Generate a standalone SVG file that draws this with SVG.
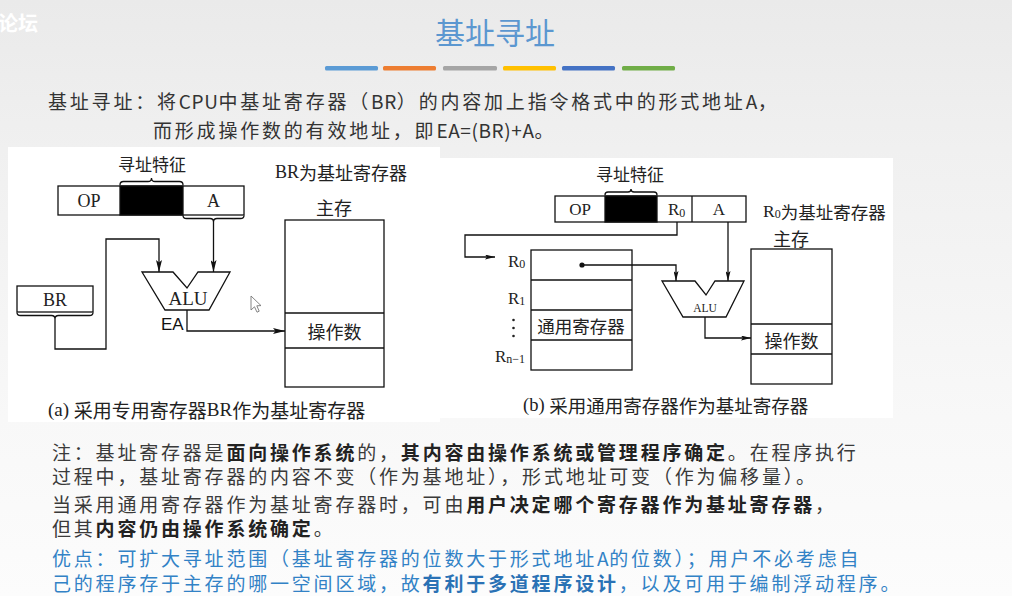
<svg xmlns="http://www.w3.org/2000/svg" width="1012" height="596" viewBox="0 0 1012 596">
<defs>
<linearGradient id="bg" x1="0" y1="0" x2="0" y2="1">
<stop offset="0" stop-color="#eaeaea"/>
<stop offset="0.25" stop-color="#f0f0f0"/>
<stop offset="0.7" stop-color="#f8f8f8"/>
<stop offset="1" stop-color="#fcfcfc"/>
</linearGradient>
<marker id="ah" markerUnits="userSpaceOnUse" markerWidth="13" markerHeight="6" refX="12" refY="3" orient="auto">
<path d="M0,0 L12,3 L0,6 L2.5,3 Z" fill="#111"/>
</marker>
<marker id="ahs" markerUnits="userSpaceOnUse" markerWidth="11" markerHeight="5" refX="10" refY="2.5" orient="auto">
<path d="M0,0 L10,2.5 L0,5 L2,2.5 Z" fill="#111"/>
</marker>
</defs>
<style>
.cjk{font-family:"Noto Sans CJK SC","Noto Sans",sans-serif;}
.ser{font-family:"Liberation Serif","Noto Sans CJK SC",serif;}
.box{fill:#fff;stroke:#111;stroke-width:1.3;}
.ln{fill:none;stroke:#111;stroke-width:1.3;}
.dt{fill:#222;dominant-baseline:central;}
.note{font-family:"Noto Sans CJK SC","Noto Sans",sans-serif;font-size:19px;letter-spacing:2.8px;fill:#3a3a3a;dominant-baseline:central;}
.lat{letter-spacing:0.6px;}
.b{font-weight:700;fill:#222;}
</style>
<rect x="0" y="0" width="1012" height="596" fill="url(#bg)"/>
<text x="-2" y="22" class="cjk" font-size="20" font-weight="700" fill="#ffffff" dominant-baseline="central">论坛</text>

<!-- title -->
<text x="495" y="31" class="cjk" font-size="30" fill="#5b97d0" text-anchor="middle" dominant-baseline="central">基址寻址</text>
<g id="colorbars">
<rect x="325" y="66" width="53" height="4.5" rx="1.5" fill="#5b9bd5"/>
<rect x="383" y="66" width="53" height="4.5" rx="1.5" fill="#ed7d31"/>
<rect x="443" y="66" width="54" height="4.5" rx="1.5" fill="#a5a5a5"/>
<rect x="503" y="66" width="53" height="4.5" rx="1.5" fill="#ffc000"/>
<rect x="562" y="66" width="53" height="4.5" rx="1.5" fill="#4472c4"/>
<rect x="622" y="66" width="53" height="4.5" rx="1.5" fill="#70ad47"/>
</g>

<!-- intro -->
<text x="48" y="100" class="note" style="fill:#333">基址寻址：将<tspan class="lat">CPU</tspan>中基址寄存器（<tspan class="lat">BR</tspan>）的内容加上指令格式中的形式地址<tspan class="lat">A</tspan>，</text>
<text x="153" y="129" class="note" style="fill:#333">而形成操作数的有效地址，即<tspan class="lat">EA=(BR)+A</tspan>。</text>

<!-- picture backgrounds -->
<rect x="8" y="147" width="432" height="275" fill="#ffffff"/>
<rect x="440" y="158" width="453" height="260" fill="#ffffff"/>

<!-- ===== Diagram (a) ===== -->
<g id="a-instr">
<rect x="58" y="186" width="186" height="29" class="box"/>
<rect x="120" y="186" width="63" height="29" fill="#000" stroke="#111" stroke-width="1.3"/>
<text x="89" y="200.5" class="ser dt" font-size="18" text-anchor="middle">OP</text>
<text x="213.5" y="200.5" class="ser dt" font-size="18" text-anchor="middle">A</text>
<text x="152" y="163" class="cjk dt" font-size="17" text-anchor="middle">寻址特征</text>
</g>
<g id="a-br">
<rect x="17" y="286" width="76" height="26" class="box"/>
<text x="55" y="299.5" class="ser dt" font-size="18" text-anchor="middle">BR</text>
</g>
<g id="a-alu">
<polygon points="142,272 173,272 187,288 198,272 230,272 209,310 165,310" class="box"/>
<text x="188" y="298" class="ser dt" font-size="19" text-anchor="middle">ALU</text>
<text x="161" y="324" font-family="Liberation Sans, Arial, sans-serif" font-size="17" fill="#111" dominant-baseline="central">EA</text>
</g>
<g id="a-mem">
<text x="334" y="207" class="cjk dt" font-size="18" text-anchor="middle">主存</text>
<rect x="285" y="220" width="99" height="167" class="box"/>
<line x1="285" y1="313" x2="384" y2="313" class="ln"/>
<line x1="285" y1="348" x2="384" y2="348" class="ln"/>
<text x="334.5" y="330.5" class="cjk dt" font-size="18" text-anchor="middle">操作数</text>
</g>
<text x="275" y="172" class="dt" font-size="18"><tspan class="ser">BR</tspan><tspan class="cjk">为基址寄存器</tspan></text>
<g id="a-connectors">
<path d="M120 185 Q120 181.5 123.5 181.5 L148 181.5 Q151.5 181.5 151.5 178 Q151.5 181.5 155 181.5 L179.5 181.5 Q183 181.5 183 185" class="ln"/>
<path d="M183 215.5 Q183 218.5 186.5 218.5 L210 218.5 Q213.5 218.5 213.5 222 Q213.5 218.5 217 218.5 L240.5 218.5 Q244 218.5 244 215.5" class="ln"/>
<path d="M213.5 222 V272" class="ln" marker-end="url(#ah)"/>
<path d="M17 312.5 Q17 315.5 20.5 315.5 L51.5 315.5 Q55 315.5 55 319 Q55 315.5 58.5 315.5 L89.5 315.5 Q93 315.5 93 312.5" class="ln"/>
<path d="M55 319 V349 H106 V239 H159 V272" class="ln" marker-end="url(#ah)"/>
<path d="M187 310 V331 H285" class="ln" marker-end="url(#ah)"/>
</g>
<path d="M251 296 L251 310 L254.5 306.8 L257 312.2 L259.2 311.2 L256.8 305.8 L261 305.6 Z" fill="#fff" stroke="#777" stroke-width="0.9"/>
<text x="48" y="409" class="dt" font-size="19"><tspan class="ser">(a) </tspan><tspan class="cjk">采用专用寄存器</tspan><tspan class="ser">BR</tspan><tspan class="cjk">作为基址寄存器</tspan></text>

<!-- ===== Diagram (b) ===== -->
<g id="b-instr">
<rect x="555" y="196" width="191" height="26" class="box"/>
<rect x="605" y="196" width="52" height="26" fill="#000" stroke="#111" stroke-width="1.3"/>
<line x1="692" y1="196" x2="692" y2="222" class="ln"/>
<text x="580" y="209.5" class="ser dt" font-size="17" text-anchor="middle">OP</text>
<text x="668" y="209.5" class="ser dt" font-size="17">R<tspan font-size="12" dy="3">0</tspan></text>
<text x="719" y="209.5" class="ser dt" font-size="17" text-anchor="middle">A</text>
<text x="630" y="173.5" class="cjk dt" font-size="17" text-anchor="middle">寻址特征</text>
</g>
<text x="763" y="211" class="dt" font-size="17.5"><tspan class="ser">R</tspan><tspan class="ser" font-size="12" dy="3">0</tspan><tspan class="cjk" dy="-3">为基址寄存器</tspan></text>
<g id="b-regs">
<rect x="531" y="250" width="101" height="120" class="box"/>
<line x1="531" y1="280" x2="632" y2="280" class="ln"/>
<line x1="531" y1="310" x2="632" y2="310" class="ln"/>
<line x1="531" y1="340" x2="632" y2="340" class="ln"/>
<text x="581" y="325" class="cjk dt" font-size="17.5" text-anchor="middle">通用寄存器</text>
<text x="508" y="261" class="ser dt" font-size="17">R<tspan font-size="12" dy="3">0</tspan></text>
<text x="508" y="298" class="ser dt" font-size="17">R<tspan font-size="12" dy="3">1</tspan></text>
<circle cx="513.5" cy="320" r="1.3" fill="#222"/>
<circle cx="513.5" cy="328" r="1.3" fill="#222"/>
<circle cx="513.5" cy="336" r="1.3" fill="#222"/>
<text x="495" y="356" class="ser dt" font-size="17">R<tspan font-size="12" dy="3">n−1</tspan></text>
</g>
<g id="b-alu">
<polygon points="662,281 695,281 706,295 715,281 744,281 726,317 683,317" class="box"/>
<text x="705" y="308" class="ser dt" font-size="11.5" text-anchor="middle">ALU</text>
</g>
<g id="b-mem">
<text x="791" y="238" class="cjk dt" font-size="18" text-anchor="middle">主存</text>
<rect x="751" y="249" width="81" height="135" class="box"/>
<line x1="751" y1="324" x2="832" y2="324" class="ln"/>
<line x1="751" y1="354" x2="832" y2="354" class="ln"/>
<text x="791.5" y="339.5" class="cjk dt" font-size="18" text-anchor="middle">操作数</text>
</g>
<g id="b-connectors">
<path d="M605 195 Q605 192 608 192 L628 192 Q631 192 631 189 Q631 192 634 192 L654 192 Q657 192 657 195" class="ln"/>
<path d="M677 222 V235 H465 V257 H495" class="ln" marker-end="url(#ahs)"/>
<circle cx="582" cy="265" r="2.6" fill="#111"/>
<path d="M582 265 H676 V281" class="ln" marker-end="url(#ahs)"/>
<path d="M728 222 V281" class="ln" marker-end="url(#ahs)"/>
<path d="M705 317 V338 H751" class="ln" marker-end="url(#ahs)"/>
</g>
<text x="523" y="405" class="dt" font-size="18.5"><tspan class="ser">(b) </tspan><tspan class="cjk">采用通用寄存器作为基址寄存器</tspan></text>

<!-- notes -->
<text x="52" y="451" class="note">注：基址寄存器是<tspan class="b">面向操作系统</tspan>的，<tspan class="b">其内容由操作系统或管理程序确定</tspan>。在程序执行</text>
<text x="52" y="475" class="note">过程中，基址寄存器的内容不变（作为基地址），形式地址可变（作为偏移量）。</text>
<text x="52" y="503" class="note">当采用通用寄存器作为基址寄存器时，可由<tspan class="b">用户决定哪个寄存器作为基址寄存器</tspan>，</text>
<text x="52" y="527" class="note">但其<tspan class="b">内容仍由操作系统确定</tspan>。</text>
<text x="52" y="557" class="note" style="fill:#3282c6">优点：可扩大寻址范围（基址寄存器的位数大于形式地址<tspan class="lat">A</tspan>的位数）；用户不必考虑自</text>
<text x="52" y="582" class="note" style="fill:#3282c6">己的程序存于主存的哪一空间区域，故<tspan font-weight="700" fill="#2a72b5">有利于多道程序设计</tspan>，以及可用于编制浮动程序。</text>
</svg>
